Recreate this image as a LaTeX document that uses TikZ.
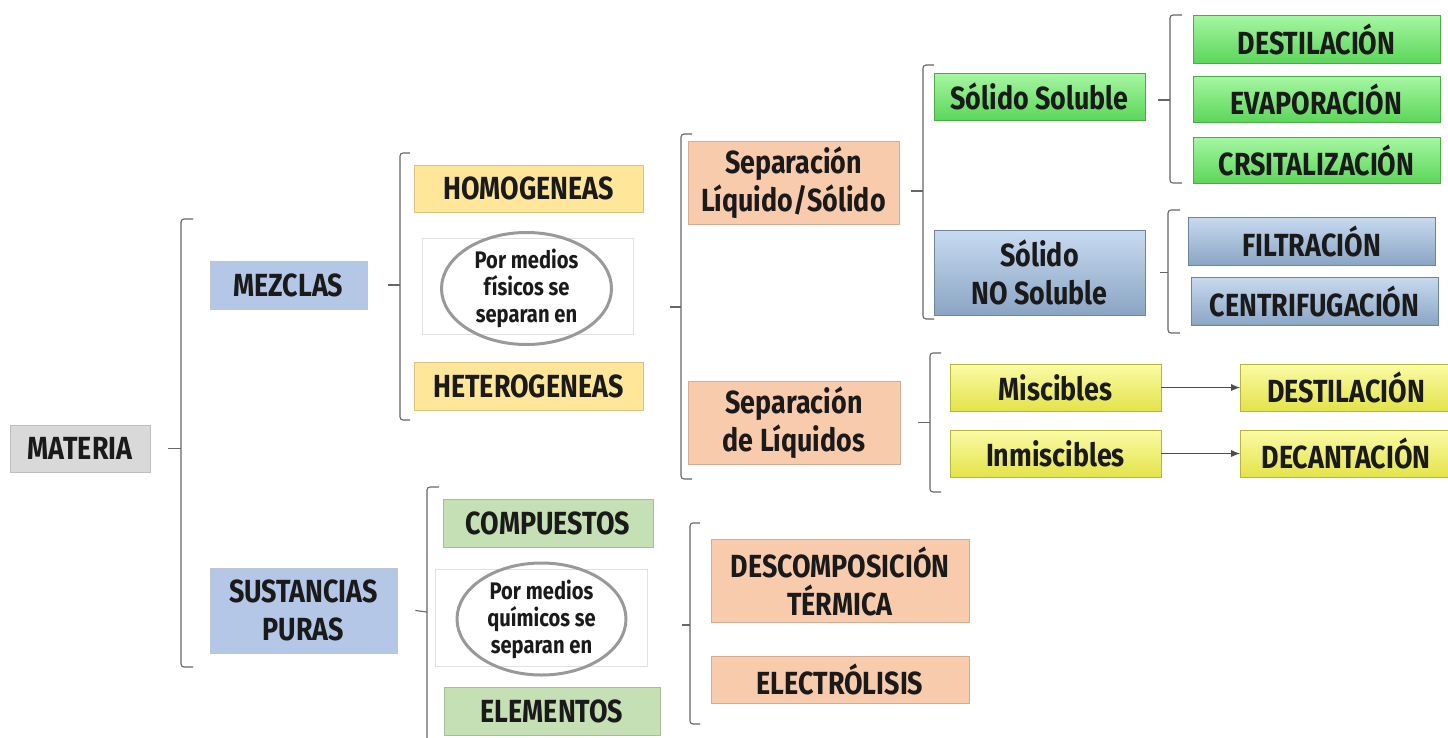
\documentclass[tikz,border=0pt]{standalone}
\usepackage{fontspec}
\setmainfont{Fira Sans}[FakeStretch=0.84]
\usepackage{tikz}
\usetikzlibrary{positioning,calc,shapes.geometric,arrows.meta}
\definecolor{materiaBg}{HTML}{D9D9D9}
\definecolor{kindBlue}{HTML}{B4C7E7}
\definecolor{mixYellow}{HTML}{FFE699}
\definecolor{methodPeach}{HTML}{F8CBAD}
\definecolor{pureSage}{HTML}{C5E0B4}
\definecolor{gradGreenTop}{HTML}{A6F7A2}
\definecolor{gradGreenBot}{HTML}{5CD65A}
\definecolor{gradBlueTop}{HTML}{C8DAF0}
\definecolor{gradBlueBot}{HTML}{8AA5C4}
\definecolor{gradYellowTop}{HTML}{FBFBA6}
\definecolor{gradYellowBot}{HTML}{E3E34A}
\definecolor{inkText}{HTML}{1A1A1A}

\begin{document}
\begin{tikzpicture}[
    x=1pt, y=-1pt,
    every node/.style = {font=\fontsize{32}{38}\selectfont\bfseries, align=center,
                         inner sep=0pt, text=inkText},
    box/.style        = {draw=black!18, line width=0.7pt},
    grayBox/.style    = {box, fill=materiaBg, draw=black!25},
    kindBox/.style    = {box, fill=kindBlue, draw=kindBlue!80!black!60},
    mixBox/.style     = {box, fill=mixYellow, draw=mixYellow!85!black},
    methodBox/.style  = {box, fill=methodPeach, draw=methodPeach!85!black},
    pureBox/.style    = {box, fill=pureSage, draw=pureSage!85!black},
    greenBox/.style   = {box, top color=gradGreenTop, bottom color=gradGreenBot,
                         draw=gradGreenBot!80!black},
    blueBox/.style    = {box, top color=gradBlueTop, bottom color=gradBlueBot,
                         draw=gradBlueBot!80!black},
    lemonBox/.style   = {box, top color=gradYellowTop, bottom color=gradYellowBot,
                         draw=gradYellowBot!80!black},
    noteBox/.style    = {draw=black!12, fill=white, line width=0.6pt},
    ring/.style       = {ellipse, draw=black!40, line width=3pt, inner sep=0pt,
                         font=\fontsize{24}{27}\selectfont\bfseries},
    brk/.style        = {draw=black!60, line width=1.1pt, rounded corners=3pt},
    arrow/.style      = {-{Latex[length=9pt,width=7pt]}, draw=black!70, line width=1pt},
  ]
  \useasboundingbox (0,0) rectangle (1448,737);

  %% Column 1: root
  \node[grayBox, minimum width=140, minimum height=47] (materia) at (80,448.5) {MATERIA};

  %% Column 2: kinds of matter
  \node[kindBox, minimum width=157, minimum height=48] (mezclas)    at (288.5,285)   {MEZCLAS};
  \node[kindBox, minimum width=187, minimum height=85] (sustancias) at (303.5,610.5) {SUSTANCIAS\\PURAS};

  %% Column 3: mixtures
  \node[mixBox, minimum width=229, minimum height=47] (homo) at (528.5,188.5) {HOMOGENEAS};
  \node[noteBox, minimum width=211, minimum height=96] (fisBox) at (527.5,286) {};
  \node[ring, minimum width=170, minimum height=112] (fisicos) at (526.5,288.5)
    {Por medios\\físicos se\\separan en};
  \node[mixBox, minimum width=229, minimum height=48] (hetero) at (528.5,386) {HETEROGENEAS};

  %% Column 3: pure substances
  \node[pureBox, minimum width=210, minimum height=48] (compuestos) at (548,523) {COMPUESTOS};
  \node[noteBox, minimum width=212, minimum height=97] (quimBox) at (541,617.5) {};
  \node[ring, minimum width=169, minimum height=112] (quimicos) at (541.5,619)
    {Por medios\\químicos se\\separan en};
  \node[pureBox, minimum width=216, minimum height=48] (elementos) at (552,711) {ELEMENTOS};

  %% Column 4: separation methods
  \node[methodBox, minimum width=211, minimum height=83] (sepLS)   at (793.5,182.5) {Separación\\Líquido/Sólido};
  \node[methodBox, minimum width=212, minimum height=83] (sepLiq)  at (794,422.5)   {Separación\\de Líquidos};
  \node[methodBox, minimum width=258, minimum height=83] (descomp) at (840,581)     {DESCOMPOSICIÓN\\TÉRMICA};
  \node[methodBox, minimum width=258, minimum height=47] (electro) at (840,679.5)   {ELECTRÓLISIS};

  %% Column 5: solids and liquids
  \node[greenBox, minimum width=211, minimum height=47] (solSol) at (1039.5,96.5)  {Sólido Soluble};
  \node[blueBox,  minimum width=211, minimum height=85] (solNo)  at (1039.5,272.5) {Sólido\\NO Soluble};
  \node[lemonBox, minimum width=211, minimum height=47] (misc)   at (1055.5,387.5) {Miscibles};
  \node[lemonBox, minimum width=211, minimum height=47] (inmisc) at (1055.5,453.5) {Inmiscibles};

  %% Column 6: techniques
  \node[greenBox, minimum width=247, minimum height=48] (destA)  at (1316.5,39)  {DESTILACIÓN};
  \node[greenBox, minimum width=247, minimum height=46] (evap)   at (1316.5,99)  {EVAPORACIÓN};
  \node[greenBox, minimum width=247, minimum height=46] (cris)   at (1316.5,160) {CRSITALIZACIÓN};
  \node[blueBox,  minimum width=247, minimum height=48] (filt)   at (1311.5,241) {FILTRACIÓN};
  \node[blueBox,  minimum width=247, minimum height=48] (centri) at (1314.5,301) {CENTRIFUGACIÓN};
  \node[lemonBox, minimum width=211, minimum height=47] (destB)  at (1346,387.5) {DESTILACIÓN};
  \node[lemonBox, minimum width=211, minimum height=47] (decant) at (1346,453.5) {DECANTACIÓN};

  %% Brackets: vertical spine, end ticks, and a short tick on the parent side
  \draw[brk] (193,219) -- (181,219) -- (181,667) -- (193,667);
  \draw[brk] ($(materia.east)+(18,0)$) -- (181,448.5);

  \draw[brk] (410,153) -- (400,153) -- (400,420) -- (410,420);
  \draw[brk] ($(mezclas.east)+(21,0)$) -- (400,285);

  \draw[brk] (439,487) -- (427,487) -- (427,760);
  \draw[brk] ($(sustancias.east)+(18,0)$) -- (427,612);

  \draw[brk] (692,134) -- (681,134) -- (681,479) -- (692,479);
  \draw[brk] ($(fisBox.east)+(37,21)$) -- (681,307);

  \draw[brk] (934,65) -- (923,65) -- (923,319) -- (934,319);
  \draw[brk] ($(sepLS.east)+(12,8.5)$) -- (923,191);

  \draw[brk] (1182,15) -- (1170,15) -- (1170,183) -- (1182,183);
  \draw[brk] ($(solSol.east)+(13,3.5)$) -- (1170,100);

  \draw[brk] (1180,210) -- (1168,210) -- (1168,333) -- (1180,333);
  \draw[brk] ($(solNo.east)+(15,0)$) -- (1168,272.5);

  \draw[brk] (941,353) -- (930,353) -- (930,492) -- (941,492);
  \draw[brk] ($(sepLiq.east)+(18,0)$) -- (930,422.5);

  \draw[brk] (700,523) -- (690,523) -- (690,724) -- (700,724);
  \draw[brk] ($(quimBox.east)+(35,7.5)$) -- (690,625);

  %% Liquids lead straight to their technique
  \draw[arrow] (misc.east)   -- (destB.west);
  \draw[arrow] (inmisc.east) -- (decant.west);

\end{tikzpicture}
\end{document}
